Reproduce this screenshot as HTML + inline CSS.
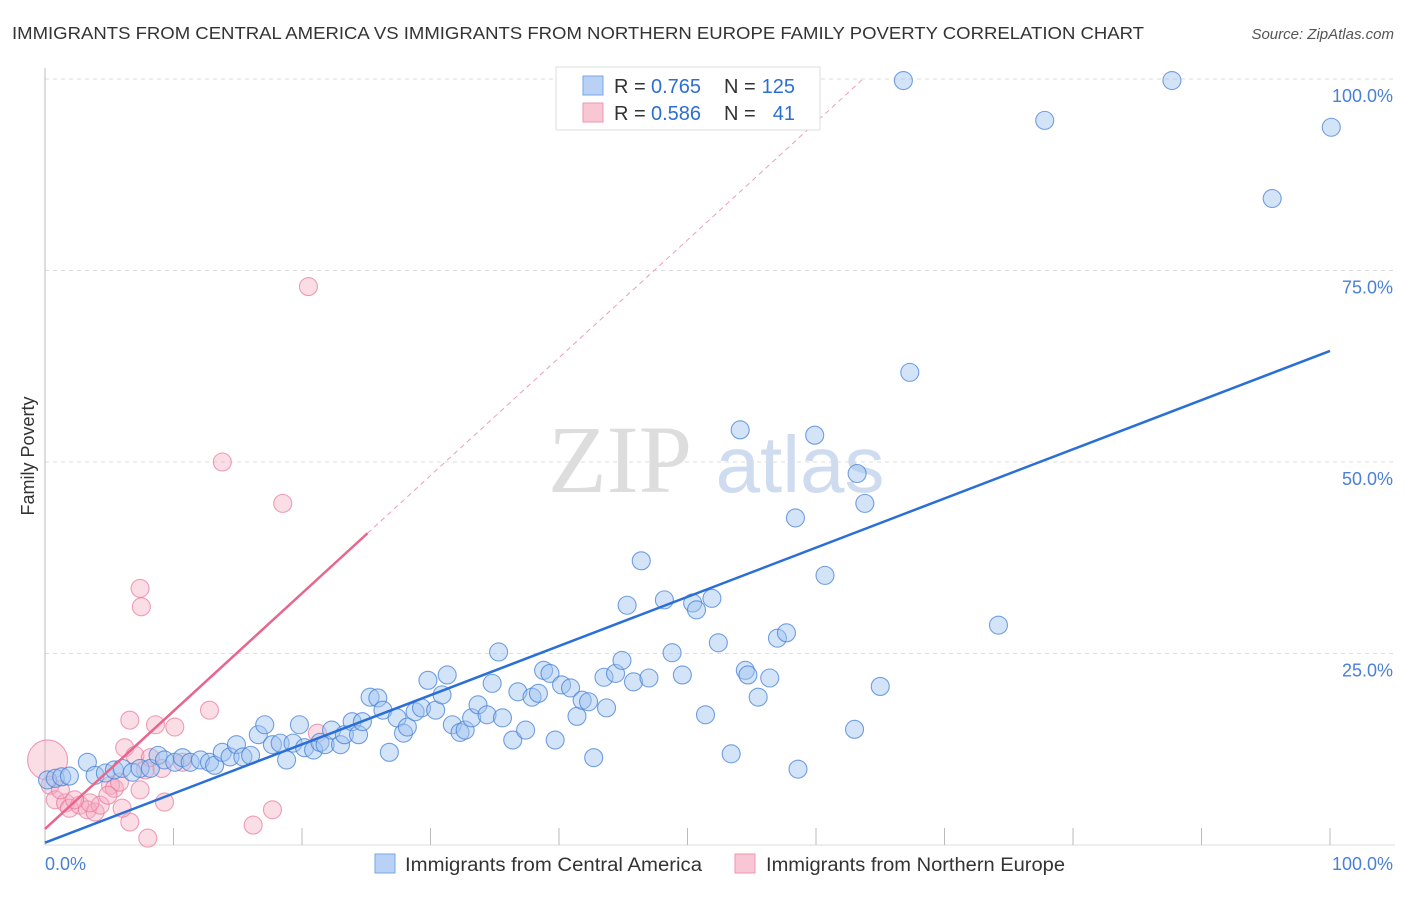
<!DOCTYPE html>
<html><head><meta charset="utf-8"><style>
body{margin:0;background:#fff;font-family:"Liberation Sans",sans-serif}
#c{position:relative;width:1406px;height:892px}
</style></head><body>
<div id="c">
<svg id="s" width="1406" height="892" xmlns="http://www.w3.org/2000/svg">
<text x="12" y="39" font-size="17.5" fill="#333" textLength="1132" lengthAdjust="spacingAndGlyphs">IMMIGRANTS FROM CENTRAL AMERICA VS IMMIGRANTS FROM NORTHERN EUROPE FAMILY POVERTY CORRELATION CHART</text>
<text x="1394" y="39" font-size="15" fill="#555" font-style="italic" text-anchor="end">Source: ZipAtlas.com</text>
<text x="34" y="456" font-size="18" fill="#333" transform="rotate(-90 34 456)" text-anchor="middle">Family Poverty</text>
<text x="620" y="492" font-size="96" fill="#ddd" font-family="Liberation Serif" text-anchor="middle">ZIP</text>
<text x="800" y="492" font-size="80" fill="#cfdcf0" text-anchor="middle">atlas</text>
<g id="grid"></g><g id="marks"></g><g id="lines"></g>
<g>
<rect x="556" y="67" width="264" height="63" fill="#fff" stroke="#ddd"/>
<rect x="583" y="76" width="20" height="19" fill="#b8d1f5" stroke="#7aa6e6"/>
<rect x="583" y="103" width="20" height="19" fill="#f9c6d4" stroke="#f096b0"/>
<text x="614" y="93" font-size="20" fill="#333">R =</text>
<text x="651" y="93" font-size="20" fill="#2d6fd1">0.765</text>
<text x="724" y="93" font-size="20" fill="#333">N =</text>
<text x="795" y="93" font-size="20" fill="#2d6fd1" text-anchor="end">125</text>
<text x="614" y="120" font-size="20" fill="#333">R =</text>
<text x="651" y="120" font-size="20" fill="#2d6fd1">0.586</text>
<text x="724" y="120" font-size="20" fill="#333">N =</text>
<text x="795" y="120" font-size="20" fill="#2d6fd1" text-anchor="end">41</text>
</g>
<g>
<rect x="375" y="854" width="20" height="19" fill="#b8d1f5" stroke="#7aa6e6"/>
<text x="405" y="871" font-size="19" fill="#333" textLength="297" lengthAdjust="spacingAndGlyphs">Immigrants from Central America</text>
<rect x="735" y="854" width="20" height="19" fill="#f9c6d4" stroke="#f096b0"/>
<text x="766" y="871" font-size="19" fill="#333" textLength="299" lengthAdjust="spacingAndGlyphs">Immigrants from Northern Europe</text>
</g>
</svg></div>
<script>
const yTicks=[25,50,75,100];
const yTickLabels=["25.0%","50.0%","75.0%","100.0%"];
const xTicks=[0,10,20,30,40,50,60,70,80,90,100];
const blueX=[0.2,0.8,1.3,1.9,3.3,3.9,4.7,5.4,6.0,6.8,7.4,8.2,8.8,9.3,10.1,10.7,11.3,12.1,12.8,13.2,13.8,14.4,14.9,15.4,16.0,16.6,17.1,17.7,18.3,18.8,19.3,19.8,20.2,20.9,21.4,21.8,22.3,23.0,23.3,23.9,24.4,24.7,25.3,25.9,26.3,26.8,27.4,27.9,28.2,28.8,29.3,29.8,30.4,30.9,31.3,31.7,32.3,32.7,33.2,33.7,34.4,34.8,35.3,35.6,36.4,36.8,37.4,37.9,38.4,38.8,39.3,39.7,40.2,40.9,41.4,41.8,42.3,42.7,43.5,43.7,44.4,44.9,45.3,45.8,46.4,47.0,48.2,48.8,49.6,50.4,50.7,51.4,51.9,52.4,53.4,54.1,54.5,54.7,55.5,56.4,57.0,57.7,58.4,58.6,59.9,60.7,63.0,63.2,63.8,65.0,66.8,67.3,74.2,77.8,87.7,95.5,100.1];
const blueY=[8.5,8.7,8.9,9.0,10.8,9.1,9.4,9.8,10.0,9.5,10.0,10.0,11.7,11.1,10.8,11.4,10.8,11.1,10.8,10.4,12.1,11.5,13.1,11.5,11.7,14.4,15.7,13.1,13.3,11.1,13.3,15.7,12.7,12.4,13.4,13.1,15.0,13.1,14.4,16.1,14.4,16.1,19.3,19.2,17.6,12.1,16.6,14.6,15.4,17.4,17.9,21.5,17.6,19.6,22.2,15.7,14.7,15.0,16.6,18.3,17.0,21.1,25.2,16.6,13.7,20.0,15.0,19.3,19.8,22.8,22.4,13.7,20.9,20.5,16.8,18.9,18.7,11.4,21.9,17.9,22.4,24.1,31.3,21.3,37.1,21.8,32.0,25.1,22.2,31.6,30.7,17.0,32.2,26.4,11.9,54.2,22.8,22.2,19.3,21.8,27.0,27.7,42.7,9.9,53.5,35.2,15.1,48.5,44.6,20.7,99.8,61.7,28.7,94.6,99.8,84.4,93.7];
const pinkX=[0.2,0.4,0.8,1.6,1.9,2.7,3.3,3.9,4.3,5.1,5.4,5.8,6.2,6.6,7.0,7.4,7.4,7.5,7.8,8.2,8.6,9.1,9.3,10.1,10.7,12.8,13.8,16.2,17.7,18.5,20.5,21.2,6.6,8.0,6.0,4.9,1.2,3.5,2.3];
const pinkY=[11.1,7.8,5.9,5.5,4.8,5.2,4.6,4.3,5.2,7.8,7.4,8.2,12.7,16.3,11.7,7.2,33.5,31.1,9.8,11.4,15.7,10.0,5.6,15.4,10.8,17.6,50.0,2.6,4.6,44.6,72.9,14.6,3.0,0.9,4.8,6.5,7.2,5.5,5.9];
const blueFit=[0.3,64.5];   // y at x=0, x=100
const pinkFit=[2.1,40.7];   // y at x=0, x=25.1
const pinkFitEnd=25.1;
const X=v=>45+v*12.85, Y=v=>845-v*7.66;
const NS="http://www.w3.org/2000/svg";
function mk(t,a,p){const e=document.createElementNS(NS,t);for(const k in a)e.setAttribute(k,a[k]);p.appendChild(e);return e;}
const g=document.getElementById('grid');
yTicks.forEach((t,i)=>{
 const l=mk('line',{x1:45,x2:1395,y1:Y(t),y2:Y(t),stroke:'#ddd','stroke-dasharray':'4 4'},g);
 
 
 const tx=mk('text',{x:1393,y:Y(t)+23,'font-size':18,fill:'#4a80d6','text-anchor':'end'},g);
 tx.textContent=yTickLabels[i];
 
 
});
const ax=mk('line',{x1:45,x2:45,y1:68,y2:845,stroke:'#bbb'},g);


const bx=mk('line',{x1:45,x2:1395,y1:845,y2:845,stroke:'#ddd'},g);


xTicks.forEach(t=>{
 const l=mk('line',{x1:X(t),x2:X(t),y1:828,y2:845,stroke:'#bbb'},g);
 
 
});
const x0=mk('text',{x:45,y:870,'font-size':18,fill:'#4a80d6'},g);x0.textContent='0.0%';


const x1=mk('text',{x:1393,y:870,'font-size':18,fill:'#4a80d6','text-anchor':'end'},g);x1.textContent='100.0%';


const m=document.getElementById('marks');
pinkX.forEach((v,i)=>{
 const c=mk('circle',{cx:X(v),cy:Y(pinkY[i]),r:i===0?20:9,fill:'rgba(246,170,192,0.4)',stroke:'rgba(232,120,155,0.7)','stroke-width':1.1},m);
 
 
});
blueX.forEach((v,i)=>{
 const c=mk('circle',{cx:X(v),cy:Y(blueY[i]),r:9,fill:'rgba(160,196,240,0.45)',stroke:'rgba(70,130,215,0.75)','stroke-width':1.1},m);
 
 
});
const L=document.getElementById('lines');
const slope=(pinkFit[1]-pinkFit[0])/pinkFitEnd, xe=(100-pinkFit[0])/slope;
const d=mk('line',{x1:X(pinkFitEnd),y1:Y(pinkFit[0]+slope*pinkFitEnd),x2:X(xe),y2:Y(100),stroke:'#e8a0b5','stroke-dasharray':'5 4','stroke-width':1},L);


const pl=mk('line',{x1:X(0),y1:Y(pinkFit[0]),x2:X(pinkFitEnd),y2:Y(pinkFit[1]),stroke:'#e8668e','stroke-width':2.5},L);


const bl=mk('line',{x1:X(0),y1:Y(blueFit[0]),x2:X(100),y2:Y(blueFit[1]),stroke:'#2a6fd6','stroke-width':2.5},L);


</script>
</body></html>
